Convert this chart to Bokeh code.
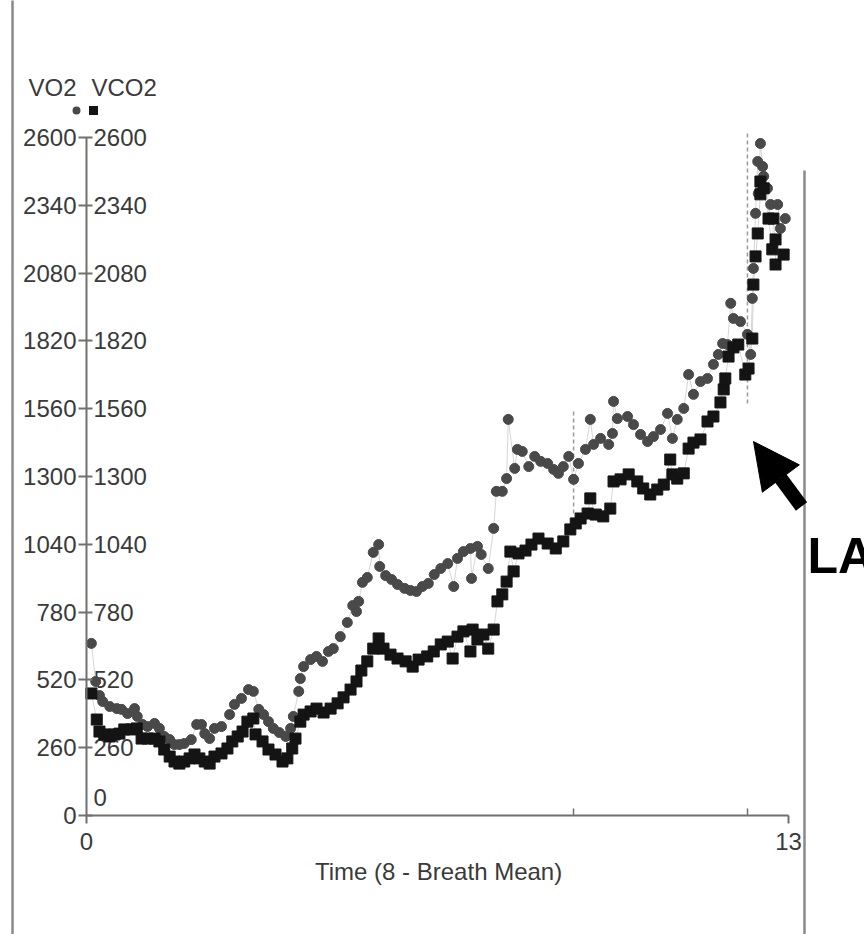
from bokeh.plotting import figure
from bokeh.models import Range1d, FixedTicker, Label, Arrow, NormalHead, BoxAnnotation, ColumnDataSource
from bokeh.core.properties import value
from bokeh.embed import file_html
from bokeh.resources import INLINE

# ---- data ----
vo2_time = [0.09, 0.17, 0.24, 0.30, 0.43, 0.56, 0.65, 0.76, 0.89, 0.94, 1.04,
            1.13, 1.26, 1.35, 1.44, 1.54, 1.63, 1.72, 1.81, 1.94, 2.04,
            2.13, 2.19, 2.28, 2.37, 2.50, 2.65, 2.74, 2.87, 3.00, 3.09,
            3.19, 3.28, 3.37, 3.46, 3.57, 3.69, 3.78, 3.83, 3.93, 3.96,
            4.02, 4.15, 4.26, 4.37, 4.48, 4.57, 4.70, 4.83, 4.93, 5.00,
            5.04, 5.11, 5.20, 5.31, 5.41, 5.43, 5.54, 5.65, 5.76, 5.89,
            6.00, 6.11, 6.22, 6.33, 6.44, 6.56, 6.69, 6.80, 6.87, 6.98,
            7.11, 7.13, 7.24, 7.31, 7.44, 7.54, 7.59, 7.70, 7.78, 7.81,
            7.93, 7.98, 8.07, 8.19, 8.30, 8.41, 8.54, 8.65, 8.74, 8.83,
            8.93, 9.02, 9.11, 9.24, 9.33, 9.39, 9.52, 9.67, 9.74, 9.76,
            9.83, 10.02, 10.13, 10.26, 10.39, 10.50, 10.63, 10.76, 10.85, 10.94,
            11.06, 11.15, 11.24, 11.37, 11.50, 11.61, 11.70, 11.78, 11.87, 11.93,
            11.98, 12.11, 12.24, 12.30, 12.33, 12.35, 12.39, 12.43, 12.44, 12.48,
            12.52, 12.54, 12.61, 12.63, 12.67, 12.80, 12.85, 12.94]
vo2 = [660, 514, 460, 437, 418, 410, 407, 391, 410, 380, 349,
       341, 353, 334, 303, 291, 272, 272, 276, 291, 349,
       349, 314, 295, 334, 341, 387, 426, 449, 483, 476,
       407, 387, 360, 334, 318, 303, 334, 380, 476, 525,
       571, 598, 610, 591, 629, 640, 686, 740, 805, 782,
       821, 894, 913, 1009, 1039, 955, 920, 905, 886, 871,
       863, 859, 878, 890, 924, 947, 966, 878, 986, 1012,
       1024, 909, 1032, 1001, 947, 1101, 1243, 1243, 1292, 1519,
       1331, 1404, 1396, 1338, 1377, 1358, 1350, 1327, 1312, 1338,
       1377, 1289, 1350, 1404, 1519, 1423, 1446, 1423, 1465, 1588,
       1522, 1530, 1499, 1461, 1434, 1453, 1480, 1542, 1446, 1519,
       1561, 1691, 1615, 1664, 1676, 1730, 1768, 1810, 1806, 1964,
       1906, 1894, 1845, 1768, 1983, 2098, 2309, 2508, 2385, 2577,
       2489, 2451, 2405, 2289, 2343, 2343, 2251, 2289]

vco2_time = [0.09, 0.19, 0.24, 0.33, 0.43, 0.52, 0.61, 0.70, 0.83, 0.93,
             1.02, 1.13, 1.26, 1.35, 1.44, 1.54, 1.63, 1.72, 1.81, 1.91,
             2.00, 2.09, 2.19, 2.28, 2.37, 2.50, 2.61, 2.70, 2.80, 2.89,
             2.98, 3.09, 3.13, 3.26, 3.37, 3.50, 3.63, 3.72, 3.81, 3.87,
             3.96, 4.02, 4.15, 4.26, 4.39, 4.52, 4.65, 4.76, 4.89, 5.00,
             5.09, 5.20, 5.31, 5.41, 5.50, 5.63, 5.76, 5.91, 6.04, 6.15,
             6.31, 6.43, 6.56, 6.69, 6.78, 6.87, 6.98, 7.11, 7.15, 7.24,
             7.35, 7.44, 7.54, 7.61, 7.70, 7.78, 7.85, 7.91, 8.00, 8.13,
             8.24, 8.37, 8.54, 8.69, 8.83, 8.96, 9.06, 9.15, 9.28, 9.33,
             9.43, 9.57, 9.70, 9.76, 9.89, 10.04, 10.20, 10.31, 10.44, 10.57,
             10.69, 10.81, 10.85, 10.94, 11.06, 11.15, 11.24, 11.37, 11.50, 11.61,
             11.74, 11.80, 11.83, 11.89, 11.98, 12.07, 12.20, 12.26, 12.33, 12.35,
             12.39, 12.43, 12.48, 12.48, 12.54, 12.63, 12.70, 12.72, 12.76, 12.76, 12.91]
vco2 = [468, 368, 322, 311, 303, 311, 314, 330, 330, 334,
        295, 295, 295, 284, 253, 226, 207, 199, 207, 219,
        234, 219, 207, 199, 226, 238, 257, 284, 303, 322,
        360, 372, 311, 284, 253, 234, 207, 219, 257, 295,
        360, 387, 399, 410, 395, 410, 430, 453, 483, 514,
        556, 591, 640, 679, 640, 617, 602, 591, 571, 598,
        610, 629, 656, 667, 602, 686, 706, 629, 713, 675,
        694, 640, 713, 821, 848, 897, 1012, 936, 1005, 1016,
        1039, 1062, 1043, 1024, 1051, 1097, 1120, 1139, 1158, 1216,
        1154, 1147, 1177, 1281, 1289, 1308, 1281, 1254, 1231, 1250,
        1269, 1365, 1308, 1292, 1312, 1407, 1430, 1442, 1511, 1530,
        1584, 1634, 1676, 1760, 1795, 1806, 1691, 1714, 1829, 2036,
        2144, 2232, 2382, 2431, 2405, 2289, 2171, 2289, 2209, 2113, 2151]

y_ticks = [0, 260, 520, 780, 1040, 1300, 1560, 1820, 2080, 2340, 2600]
y_tick_labels = ["0", "260", "520", "780", "1040", "1300", "1560", "1820", "2080", "2340", "2600"]
x_ticks = [0, 13]
x_tick_labels = ["0", "13"]
event_times = [9.02, 12.24]
event_bottom = [1158, 1580]
event_top = [1553, 2615]

FONT = "Liberation Sans"
TXT = "#3a3a3a"
AX = "#707070"

# frame covers the whole page; axes are fixed at the data origin
p = figure(width=864, height=934,
           x_range=Range1d(-86 / 54, 778 / 54), y_range=Range1d(-456.3, 3125.3),
           min_border=0, min_border_left=0, min_border_right=0, min_border_top=0, min_border_bottom=0,
           toolbar_location=None, output_backend="svg")
p.outline_line_color = None
p.grid.visible = False
p.background_fill_color = "white"
p.border_fill_color = "white"

# y axis (VO2 labels on the left)
ya = p.yaxis[0]
ya.fixed_location = 0
ya.ticker = FixedTicker(ticks=y_ticks)
ya.major_label_overrides = {t: l for t, l in zip(y_ticks, y_tick_labels)}
ya.bounds = (0, 2600)
ya.major_tick_in = 6
ya.major_tick_out = 8
ya.minor_tick_line_color = None
ya.axis_line_color = AX
ya.axis_line_width = 2
ya.major_tick_line_color = AX
ya.major_tick_line_width = 2
ya.major_label_standoff = 2
ya.major_label_text_font = FONT
ya.major_label_text_font_size = "24px"
ya.major_label_text_color = TXT

# x axis
xa = p.xaxis[0]
xa.fixed_location = 0
xa.ticker = FixedTicker(ticks=x_ticks, minor_ticks=event_times)
xa.major_label_overrides = {t: l for t, l in zip(x_ticks, x_tick_labels)}
xa.bounds = (0, 13)
xa.major_tick_in = 0
xa.major_tick_out = 8
xa.minor_tick_in = 7
xa.minor_tick_out = 0
xa.axis_line_color = AX
xa.axis_line_width = 2
xa.major_tick_line_color = AX
xa.major_tick_line_width = 2
xa.minor_tick_line_color = AX
xa.minor_tick_line_width = 1.5
xa.major_label_standoff = 9
xa.major_label_text_font = FONT
xa.major_label_text_font_size = "24px"
xa.major_label_text_color = TXT

# VCO2 tick labels to the right of the axis line
lab_src = ColumnDataSource(dict(
    x=[0] * len(y_ticks), y=y_ticks, text=y_tick_labels,
    yoff=[-18 if t == 0 else 0 for t in y_ticks]))
p.text(x="x", y="y", text="text", y_offset="yoff", source=lab_src, x_offset=7,
       text_align="left", text_baseline="middle",
       text_font=value(FONT), text_font_size=value("24px"), text_color=TXT)

# event markers (dashed)
p.segment(x0=event_times, y0=event_bottom, x1=event_times, y1=event_top,
          line_color="#9a9a9a", line_width=1.5, line_dash="4 3")

# faint connecting lines
p.line(vo2_time, vo2, line_color="#d6d6d6", line_width=1)
p.line(vco2_time, vco2, line_color="#d6d6d6", line_width=1)

p.scatter(vo2_time, vo2, marker="circle", size=10, fill_color="#494949", line_color="#494949")
p.scatter(vco2_time, vco2, marker="square", size=11, fill_color="#141414", line_color="#141414")

# header
p.add_layout(Label(x=-0.63, y=2792, text="VO2", text_align="center", text_baseline="middle",
                   text_font=FONT, text_font_size="24px", text_color=TXT))
p.add_layout(Label(x=0.093, y=2792, text="VCO2", text_align="left", text_baseline="middle",
                   text_font=FONT, text_font_size="24px", text_color=TXT))
p.add_layout(BoxAnnotation(left=-0.259, right=-0.111, bottom=2688, top=2719,
                           fill_color="#494949", fill_alpha=1, line_color=None, border_radius=4))
p.add_layout(BoxAnnotation(left=0.046, right=0.213, bottom=2686, top=2721,
                           fill_color="#141414", fill_alpha=1, line_color=None))

# axis title
p.add_layout(Label(x=6.52, y=-215, text="Time (8 - Breath Mean)", text_align="center",
                   text_baseline="middle", text_font=FONT, text_font_size="24px", text_color=TXT))

# page border lines
p.add_layout(Arrow(x_start=-1.37, y_start=3200, x_end=-1.37, y_end=-470, end=None,
                   line_color="#8a8a8a", line_width=2.5))
p.add_layout(Arrow(x_start=13.296, y_start=2473, x_end=13.296, y_end=-470, end=None,
                   line_color="#8a8a8a", line_width=2.5))

# LA arrow and label
p.add_layout(Arrow(x_start=13.241, y_start=1185, x_end=12.352, y_end=1434,
                   end=NormalHead(size=46, fill_color="black", line_color="black", line_width=1),
                   line_color="black", line_width=14))
p.add_layout(Label(x=13.352, y=997, text="LA", text_align="left", text_baseline="alphabetic",
                   text_font=FONT, text_font_size="50px", text_font_style="bold", text_color="black"))

open("out.html", "w").write(file_html(p, INLINE))
